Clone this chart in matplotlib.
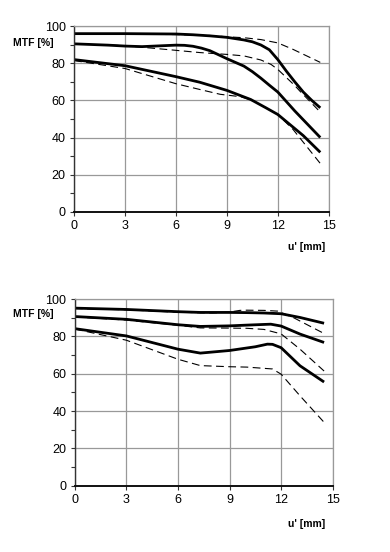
import matplotlib
matplotlib.use("Agg")
import matplotlib.pyplot as plt
from matplotlib.ticker import MultipleLocator

plt.rcParams['font.family'] = ['Liberation Sans', 'DejaVu Sans']

# ---- data: top chart ----
top_s1_x = [0, 3, 6, 7, 8, 9, 10, 10.5, 11, 11.5, 12, 12.5, 13, 13.5, 14, 14.5]
top_s1_y = [96, 96, 95.8, 95.4, 94.8, 94, 92.6, 91.6, 89.9, 87.3, 82, 75.8, 70, 64.5, 60, 56]
top_d1_x = [0, 3, 6, 8, 9, 10, 11, 12, 12.9, 14.5]
top_d1_y = [96, 95.8, 95.5, 95, 94.3, 93.8, 92.8, 91, 87.5, 80.5]

top_s2_x = [0, 2, 3, 4, 5, 6, 6.5, 7, 7.5, 8, 9, 10, 10.5, 11, 11.5, 12, 13, 14.5]
top_s2_y = [90.5, 89.8, 89.3, 89, 89.4, 89.8, 89.7, 89.2, 88.2, 86.8, 82.5, 78.5, 75.5, 72, 68.2, 64.5, 54.3, 40]
top_d2_x = [0, 3, 6, 7.4, 9, 10, 11, 11.6, 12, 13, 13.3, 14.5]
top_d2_y = [90.5, 89.5, 87, 85.8, 84.8, 84, 81.8, 79.4, 76.7, 68, 65, 53.7]

top_s3_x = [0, 3, 6, 7.4, 9, 10.4, 11.3, 12, 13, 13.5, 14.5]
top_s3_y = [82, 78.7, 72.8, 69.8, 65.4, 60.5, 56, 52.4, 44.8, 41, 32]
top_d3_x = [0, 3, 6, 7.4, 8.6, 9.8, 10.5, 11.3, 12, 12.9, 14.5]
top_d3_y = [81.5, 77.2, 69, 65.9, 63.3, 62, 60, 56, 52.4, 44.3, 26]

# ---- data: bottom chart ----
bot_s1_x = [0, 3, 6, 7.3, 9, 10, 11, 12, 13.1, 14.5]
bot_s1_y = [95.2, 94.5, 93.3, 92.9, 92.9, 92.8, 92.6, 92.2, 90.2, 87.1]
bot_d1_x = [0, 3, 6, 8, 9, 9.6, 10, 11, 11.8, 12.7, 14.5]
bot_d1_y = [95, 94.3, 93, 92.6, 93.1, 94, 94.1, 94, 93.6, 90.2, 81.6]

bot_s2_x = [0, 3, 6, 7.3, 9, 10, 11.4, 12, 13.1, 14.5]
bot_s2_y = [90.7, 89.2, 86.3, 85.4, 85.7, 86.1, 86.6, 85.6, 81.3, 76.8]
bot_d2_x = [0, 3, 6, 7.3, 9, 10, 11, 12, 13.1, 14.5]
bot_d2_y = [90.5, 88.8, 86, 84.6, 84.5, 84.4, 83.8, 81.4, 73.2, 61.5]

bot_s3_x = [0, 3, 6, 7.3, 9, 10.5, 11.2, 11.5, 12, 13.1, 14.5]
bot_s3_y = [84.2, 80.3, 73.2, 71.1, 72.5, 74.5, 75.9, 75.8, 74, 64.3, 55.6]
bot_d3_x = [0, 3, 6, 7.3, 9, 10, 11.5, 12, 13.1, 14.5]
bot_d3_y = [84, 78, 67.8, 64.4, 63.8, 63.6, 62.6, 59.8, 48.2, 34]

x_ticks = [0, 3, 6, 9, 12, 15]
y_ticks = [0, 20, 40, 60, 80, 100]

fig = plt.figure(figsize=(3.9, 5.52), dpi=100)

def style(ax):
    ax.set_xlim(0, 15)
    ax.set_ylim(0, 100)
    ax.set_xticks(x_ticks)
    ax.set_yticks(y_ticks)
    ax.yaxis.set_minor_locator(MultipleLocator(10))
    ax.grid(True, which="major", color="#999999", linewidth=0.9)
    ax.set_axisbelow(True)
    for s in ["top", "right"]:
        ax.spines[s].set_color("#999999")
        ax.spines[s].set_linewidth(0.9)
    ax.spines["left"].set_color("#333333")
    ax.spines["left"].set_linewidth(1.0)
    ax.spines["bottom"].set_color("#111111")
    ax.spines["bottom"].set_linewidth(1.4)
    ax.tick_params(axis="both", which="major", length=3, width=0.8,
                   labelsize=9, pad=3, color="#333333")
    ax.tick_params(axis="y", which="minor", length=3, width=0.8, color="#333333")

def draw(ax, series):
    for (sx, sy, dx, dy) in series:
        ax.plot(dx, dy, color="black", linewidth=0.8, linestyle=(0, (7, 4)))
        ax.plot(sx, sy, color="black", linewidth=2.0, solid_capstyle="butt",
                solid_joinstyle="round")

ax1 = fig.add_axes([0.190, 0.6165, 0.653, 0.336])
style(ax1)
draw(ax1, [(top_s1_x, top_s1_y, top_d1_x, top_d1_y),
           (top_s2_x, top_s2_y, top_d2_x, top_d2_y),
           (top_s3_x, top_s3_y, top_d3_x, top_d3_y)])

ax2 = fig.add_axes([0.192, 0.120, 0.661, 0.338])
style(ax2)
draw(ax2, [(bot_s1_x, bot_s1_y, bot_d1_x, bot_d1_y),
           (bot_s2_x, bot_s2_y, bot_d2_x, bot_d2_y),
           (bot_s3_x, bot_s3_y, bot_d3_x, bot_d3_y)])

# axis labels placed as in reference
fig.text(13 / 390, 1 - 43 / 552, "MTF [%]", fontsize=7.5, fontweight="bold",
         ha="left", va="center")
fig.text(325 / 390, 1 - 247 / 552, "u' [mm]", fontsize=7.5, fontweight="bold",
         ha="right", va="center")
fig.text(13 / 390, 1 - 314 / 552, "MTF [%]", fontsize=7.5, fontweight="bold",
         ha="left", va="center")
fig.text(325 / 390, 1 - 524 / 552, "u' [mm]", fontsize=7.5, fontweight="bold",
         ha="right", va="center")

fig.savefig("out.png", dpi=100)
